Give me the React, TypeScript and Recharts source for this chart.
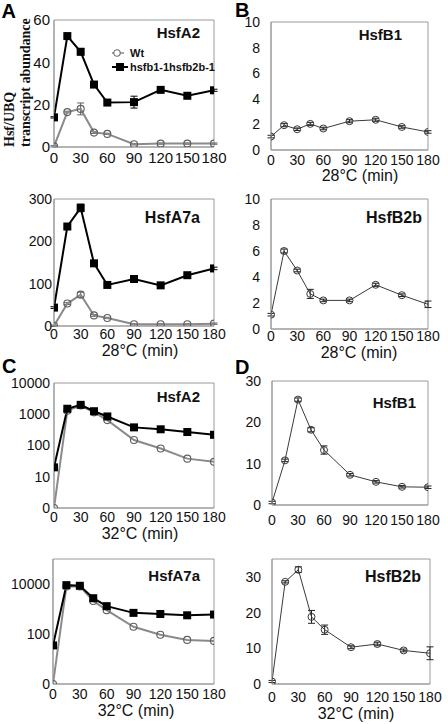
import React from 'react';
import { LineChart, Line, XAxis, YAxis, ErrorBar, ReferenceArea, Legend } from 'recharts';

// ---------- data ----------
const minutes = [0, 15, 30, 45, 60, 90, 120, 150, 180];
const xTicks = [0, 30, 60, 90, 120, 150, 180];

const WT_NAME = 'Wt';
const MUT_NAME = 'hsfb1-1hsfb2b-1';

// A: 28°C
const hsfA2_28_wt = [0.3, 16.5, 18, 6.8, 6.2, 1.3, 1.6, 1.6, 1.6];
const hsfA2_28_wtErr = [0.3, 0.4, 2.8, 0.4, 0.3, 0.3, 0.3, 0.3, 0.3];
const hsfA2_28_mut = [14, 52.4, 45, 29.5, 21, 21.2, 27, 24.2, 26.8];
const hsfA2_28_mutErr = [0.3, 0.5, 1.5, 1, 0.5, 2.8, 0.5, 0.5, 0.5];

const hsfA7a_28_wt = [0.5, 53, 74, 25, 19, 4, 4, 4, 5.5];
const hsfA7a_28_wtErr = [1.5, 2, 6, 2, 1.5, 1.5, 1.5, 1.5, 1.5];
const hsfA7a_28_mut = [43.5, 235, 279, 148, 97, 111, 96, 120, 136];
const hsfA7a_28_mutErr = [2, 3, 9, 3, 2, 2, 2, 4, 3];

// B: 28°C
const hsfB1_28 = [1.05, 1.94, 1.62, 2.04, 1.68, 2.25, 2.36, 1.8, 1.41];
const hsfB1_28Err = [0.1, 0.12, 0.1, 0.12, 0.1, 0.12, 0.12, 0.1, 0.1];
const hsfB2b_28 = [1.1, 6.0, 4.5, 2.7, 2.2, 2.2, 3.4, 2.6, 1.9];
const hsfB2b_28Err = [0.1, 0.15, 0.1, 0.35, 0.1, 0.1, 0.12, 0.1, 0.25];

// C: 32°C (log scale, "0" tick = 1)
const hsfA2_32_wt = [1, 1300, 1900, 1150, 650, 150, 80, 38, 30];
const hsfA2_32_mut = [20, 1500, 2000, 1250, 850, 380, 330, 270, 220];
const hsfA7a_32_wt = [1, 8000, 8000, 2100, 900, 195, 93, 58, 53];
const hsfA7a_32_mut = [35, 9000, 8500, 2700, 1300, 700, 630, 560, 600];

// D: 32°C
const hsfB1_32 = [0.6, 10.8, 25.5, 18.2, 13.3, 7.3, 5.6, 4.4, 4.3];
const hsfB1_32Err = [0.3, 0.3, 0.4, 0.5, 1.0, 0.3, 0.3, 0.3, 0.3];
const hsfB2b_32 = [0.7, 28.6, 32, 18.8, 15.2, 10.3, 11.2, 9.4, 8.6];
const hsfB2b_32Err = [0.3, 0.3, 0.8, 1.8, 1.3, 0.4, 0.5, 0.4, 1.8];

// ---------- styling ----------
const SANS = '"Liberation Sans", Arial, Helvetica, sans-serif';
const SERIF = '"Liberation Serif", "Times New Roman", serif';
const FRAME = '#9a9a9a';

type Kind = 'wt' | 'mut' | 'single';
type Series = { key: string; name: string; values: number[]; errors?: number[]; kind: Kind };

type PanelSpec = {
  title: string;
  series: Series[];
  yDomain: [number, number];
  yTicks: number[];
  log?: boolean;
  col: number;
  x0: number; x1: number; y0: number; y1: number;
  tickFont: number; xGap: number; yGap: number;
  titleRight: number; titleCy: number; titleFont: number;
  xTitle?: string; xTitleCx?: number; xTitleCy?: number;
  letter?: string; letterX?: number; letterBase?: number;
  yTitle?: boolean;
  legend?: boolean;
};

const panels: PanelSpec[] = [
  {
    title: 'HsfA2',
    series: [
      { key: 'wt', name: WT_NAME, values: hsfA2_28_wt, errors: hsfA2_28_wtErr, kind: 'wt' },
      { key: 'mut', name: MUT_NAME, values: hsfA2_28_mut, errors: hsfA2_28_mutErr, kind: 'mut' },
    ],
    yDomain: [0, 60], yTicks: [0, 20, 40, 60],
    col: 0, x0: 54, x1: 214, y0: 20, y1: 147,
    tickFont: 15, xGap: 5, yGap: 4,
    titleRight: 200, titleCy: 33, titleFont: 15,
    letter: 'A', letterX: 1.5, letterBase: 18,
    yTitle: true, legend: true,
  },
  {
    title: 'HsfA7a',
    series: [
      { key: 'wt', name: WT_NAME, values: hsfA7a_28_wt, errors: hsfA7a_28_wtErr, kind: 'wt' },
      { key: 'mut', name: MUT_NAME, values: hsfA7a_28_mut, errors: hsfA7a_28_mutErr, kind: 'mut' },
    ],
    yDomain: [0, 300], yTicks: [0, 100, 200, 300],
    col: 0, x0: 54, x1: 214, y0: 199, y1: 326,
    tickFont: 14, xGap: 3, yGap: 2,
    titleRight: 200, titleCy: 217, titleFont: 16,
    xTitle: '28°C (min)', xTitleCx: 140, xTitleCy: 350,
  },
  {
    title: 'HsfB1',
    series: [{ key: 'v', name: 'HsfB1', values: hsfB1_28, errors: hsfB1_28Err, kind: 'single' }],
    yDomain: [0, 10], yTicks: [0, 2, 4, 6, 8, 10],
    col: 224, x0: 271, x1: 428, y0: 22, y1: 150,
    tickFont: 14, xGap: 5, yGap: 11,
    titleRight: 402, titleCy: 35, titleFont: 15,
    xTitle: '28°C (min)', xTitleCx: 360, xTitleCy: 175,
    letter: 'B', letterX: 235, letterBase: 17,
  },
  {
    title: 'HsfB2b',
    series: [{ key: 'v', name: 'HsfB2b', values: hsfB2b_28, errors: hsfB2b_28Err, kind: 'single' }],
    yDomain: [0, 10], yTicks: [0, 2, 4, 6, 8, 10],
    col: 224, x0: 271, x1: 428, y0: 199, y1: 329,
    tickFont: 14, xGap: 2, yGap: 11,
    titleRight: 422, titleCy: 217, titleFont: 16,
    xTitle: '28°C (min)', xTitleCx: 359, xTitleCy: 352,
  },
  {
    title: 'HsfA2',
    series: [
      { key: 'wt', name: WT_NAME, values: hsfA2_32_wt, kind: 'wt' },
      { key: 'mut', name: MUT_NAME, values: hsfA2_32_mut, kind: 'mut' },
    ],
    yDomain: [1, 10000], yTicks: [1, 10, 100, 1000, 10000], log: true,
    col: 0, x0: 54, x1: 214, y0: 383, y1: 508,
    tickFont: 14, xGap: 4, yGap: 4,
    titleRight: 200, titleCy: 397, titleFont: 15,
    xTitle: '32°C (min)', xTitleCx: 140, xTitleCy: 533,
    letter: 'C', letterX: 2, letterBase: 373,
  },
  {
    title: 'HsfA7a',
    series: [
      { key: 'wt', name: WT_NAME, values: hsfA7a_32_wt, kind: 'wt' },
      { key: 'mut', name: MUT_NAME, values: hsfA7a_32_mut, kind: 'mut' },
    ],
    yDomain: [1, 100000], yTicks: [1, 100, 10000], log: true,
    col: 0, x0: 53, x1: 214, y0: 559, y1: 684,
    tickFont: 14, xGap: 5, yGap: 3,
    titleRight: 200, titleCy: 576, titleFont: 15,
    xTitle: '32°C (min)', xTitleCx: 136, xTitleCy: 710,
  },
  {
    title: 'HsfB1',
    series: [{ key: 'v', name: 'HsfB1', values: hsfB1_32, errors: hsfB1_32Err, kind: 'single' }],
    yDomain: [0, 30], yTicks: [0, 10, 20, 30],
    col: 224, x0: 272, x1: 428, y0: 381, y1: 505,
    tickFont: 14, xGap: 10, yGap: 11,
    titleRight: 416, titleCy: 403, titleFont: 15,
    letter: 'D', letterX: 235, letterBase: 374,
  },
  {
    title: 'HsfB2b',
    series: [{ key: 'v', name: 'HsfB2b', values: hsfB2b_32, errors: hsfB2b_32Err, kind: 'single' }],
    yDomain: [0, 35], yTicks: [0, 10, 20, 30],
    col: 224, x0: 272, x1: 430, y0: 559, y1: 684,
    tickFont: 14, xGap: 8, yGap: 11,
    titleRight: 421, titleCy: 576, titleFont: 16,
    xTitle: '32°C (min)', xTitleCx: 356, xTitleCy: 713,
  },
];

// ---------- rendering ----------
const SquareDot = (props: any) => {
  const { cx, cy, index } = props;
  if (cx == null || cy == null) return <g key={`sq-${index}`} />;
  return <rect key={`sq-${index}`} x={cx - 4} y={cy - 4} width={8} height={8} fill="#000" />;
};

const LegendContent = (props: any) => {
  const payload: any[] = props.payload || [];
  const items = [...payload].sort((a, b) => (a.value === WT_NAME ? -1 : b.value === WT_NAME ? 1 : 0));
  return (
    <div style={{ fontFamily: SANS, fontWeight: 'bold', fontSize: 11, color: '#111' }}>
      {items.map((it) => (
        <div key={it.value} style={{ display: 'flex', alignItems: 'center', height: 14, whiteSpace: 'nowrap' }}>
          <svg width={17} height={14} style={{ display: 'block' }}>
            {it.value === WT_NAME ? (
              <g>
                <line x1={0} y1={7} x2={12} y2={7} stroke="#8a8a8a" strokeWidth={1.5} />
                <circle cx={5} cy={7} r={3.2} fill="#fff" stroke="#6e6e6e" strokeWidth={1.1} />
              </g>
            ) : (
              <g>
                <line x1={0} y1={7} x2={16} y2={7} stroke="#000" strokeWidth={2} />
                <rect x={4} y={3} width={8} height={8} fill="#000" />
              </g>
            )}
          </svg>
          <span style={{ marginLeft: 1 }}>{it.value}</span>
        </div>
      ))}
    </div>
  );
};

function Panel({ p }: { p: PanelSpec }) {
  const MT = 40;
  const XH = 50;
  const YW = 40;
  const chartW = p.col === 0 ? 234 : 224;
  const top = p.y0 - MT;
  const height = MT + (p.y1 - p.y0) + XH;
  const margin = { top: MT, right: p.col + chartW - p.x1, bottom: 0, left: p.x0 - p.col - YW };
  const rx = (x: number) => x - p.col;
  const ry = (y: number) => y - top;

  const data = minutes.map((t, i) => {
    const row: Record<string, number> = { t };
    p.series.forEach((s) => {
      row[s.key] = s.values[i];
      if (s.errors) row[`${s.key}Err`] = s.errors[i];
    });
    return row;
  });

  const tickStyle = { fontSize: p.tickFont, fill: '#111', fontFamily: SANS };

  const titleLabel = () => (
    <text
      x={rx(p.titleRight)}
      y={ry(p.titleCy) + 0.36 * p.titleFont}
      textAnchor="end"
      fontFamily={SANS}
      fontWeight="bold"
      fontSize={p.titleFont}
      fill="#111"
    >
      {p.title}
    </text>
  );

  const xTitleLabel = () =>
    p.xTitle ? (
      <text
        x={rx(p.xTitleCx as number)}
        y={ry(p.xTitleCy as number) + 0.36 * 16}
        textAnchor="middle"
        fontFamily={SANS}
        fontSize={16}
        fill="#111"
      >
        {p.xTitle}
      </text>
    ) : (
      <g />
    );

  const yLabel = () => (
    <g>
      {p.letter && (
        <text
          x={rx(p.letterX as number)}
          y={ry(p.letterBase as number)}
          fontFamily={SANS}
          fontWeight="bold"
          fontSize={20}
          fill="#000"
        >
          {p.letter}
        </text>
      )}
      {p.yTitle && (
        <g>
          <text
            x={rx(14)}
            y={ry(147)}
            transform={`rotate(-90 ${rx(14)} ${ry(147)})`}
            fontFamily={SERIF}
            fontWeight="bold"
            fontSize={14}
            fill="#111"
          >
            Hsf/UBQ
          </text>
          <text
            x={rx(30)}
            y={ry(147)}
            transform={`rotate(-90 ${rx(30)} ${ry(147)})`}
            fontFamily={SERIF}
            fontWeight="bold"
            fontSize={14}
            fill="#111"
          >
            transcript abundance
          </text>
        </g>
      )}
    </g>
  );

  return (
    <div style={{ position: 'absolute', left: p.col, top }}>
      <LineChart width={chartW} height={height} data={data} margin={margin}>
        <ReferenceArea
          x1={0}
          x2={180}
          y1={p.yDomain[0]}
          y2={p.yDomain[1]}
          fill="none"
          fillOpacity={0}
          stroke={FRAME}
          strokeWidth={1}
          label={titleLabel}
        />
        <XAxis
          dataKey="t"
          type="number"
          domain={[0, 180]}
          ticks={xTicks}
          interval={0}
          height={XH}
          tickSize={0}
          tickMargin={p.xGap}
          axisLine={{ stroke: FRAME }}
          tickLine={false}
          tick={tickStyle}
          allowDataOverflow
          label={xTitleLabel}
        />
        <YAxis
          type="number"
          scale={p.log ? 'log' : 'linear'}
          domain={p.yDomain}
          ticks={p.yTicks}
          interval={0}
          width={YW}
          tickSize={0}
          tickMargin={p.yGap}
          axisLine={{ stroke: FRAME }}
          tickLine={false}
          tick={tickStyle}
          allowDataOverflow
          tickFormatter={(v: number) => (p.log && v === 1 ? '0' : String(v))}
          label={yLabel}
        />
        {p.series.map((s) => {
          if (s.kind === 'wt') {
            return (
              <Line
                key={s.key}
                dataKey={s.key}
                name={s.name}
                type="linear"
                stroke="#8a8a8a"
                strokeWidth={2}
                dot={{ r: 3.5, fill: 'none', stroke: '#5e5e5e', strokeWidth: 1.1 }}
                activeDot={false}
                isAnimationActive={false}
              >
                {s.errors && (
                  <ErrorBar dataKey={`${s.key}Err`} direction="y" width={3.5} strokeWidth={1} stroke="#5e5e5e" />
                )}
              </Line>
            );
          }
          if (s.kind === 'mut') {
            return (
              <Line
                key={s.key}
                dataKey={s.key}
                name={s.name}
                type="linear"
                stroke="#000"
                strokeWidth={2}
                dot={SquareDot}
                activeDot={false}
                isAnimationActive={false}
              >
                {s.errors && (
                  <ErrorBar dataKey={`${s.key}Err`} direction="y" width={3.5} strokeWidth={1} stroke="#000" />
                )}
              </Line>
            );
          }
          return (
            <Line
              key={s.key}
              dataKey={s.key}
              name={s.name}
              type="linear"
              stroke="#3a3a3a"
              strokeWidth={1}
              dot={{ r: 3.5, fill: 'none', stroke: '#3a3a3a', strokeWidth: 1 }}
              activeDot={false}
              isAnimationActive={false}
            >
              {s.errors && (
                <ErrorBar dataKey={`${s.key}Err`} direction="y" width={3.5} strokeWidth={1} stroke="#222" />
              )}
            </Line>
          );
        })}
        {p.legend && (
          <Legend
            layout="horizontal"
            verticalAlign="middle"
            align="center"
            wrapperStyle={{ position: 'absolute', left: rx(112), top: ry(46), width: 120, height: 28 }}
            content={LegendContent}
          />
        )}
      </LineChart>
    </div>
  );
}

export default function App() {
  return (
    <div style={{ position: 'absolute', left: 0, top: 0, width: 448, height: 724, background: '#fff', overflow: 'hidden' }}>
      {panels.map((p, i) => (
        <Panel key={i} p={p} />
      ))}
    </div>
  );
}
